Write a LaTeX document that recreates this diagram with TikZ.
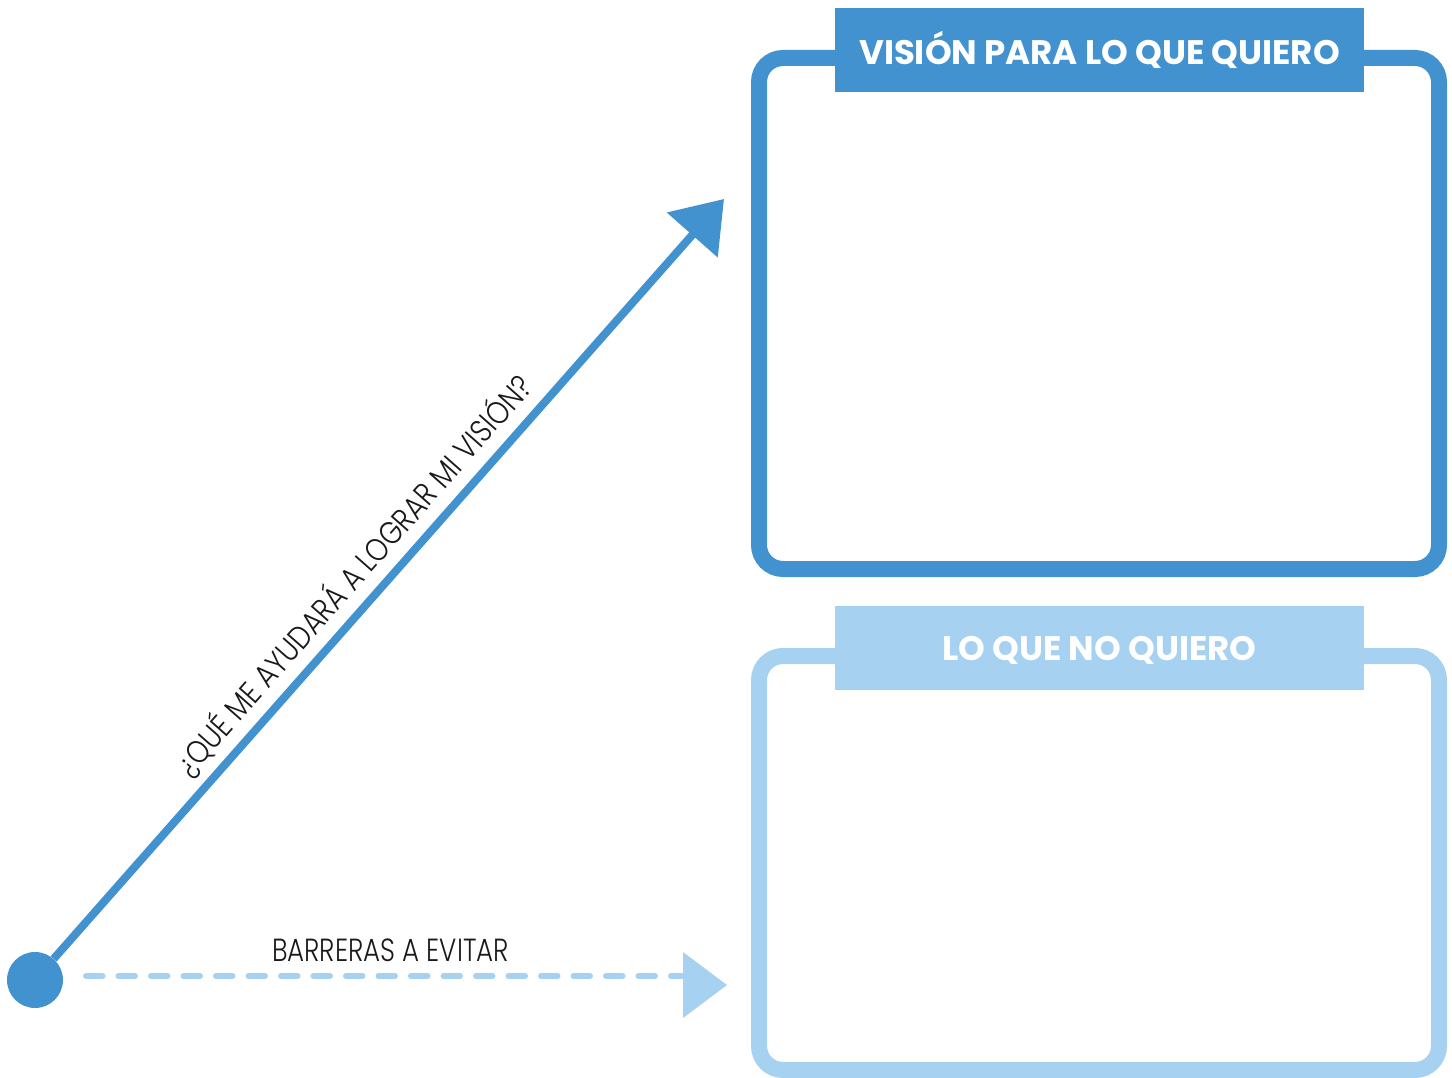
\documentclass[tikz,border=0pt]{standalone}
\usepackage{fontspec}
\setmainfont{Poppins}
\newfontfamily\titlefont{Poppins}[UprightFont={* Bold}, FakeStretch=1.0]
\newfontfamily\labelfont{Poppins Light}[FakeStretch=0.815]
\newfontfamily\askfont{Poppins Light}[FakeStretch=0.85]
\usetikzlibrary{positioning,arrows.meta}

\definecolor{darkblue}{RGB}{66,146,208}
\definecolor{lightblue}{RGB}{166,209,240}

\tikzset{
    frame/.style={line width=16pt, rounded corners=24pt},
    title/.style={text=white, font=\titlefont\fontsize{34}{34}\selectfont},
    label/.style={text=black!90, font=\labelfont\fontsize{32}{32}\selectfont},
    ask/.style={text=black!90, font=\askfont\fontsize{32}{32}\selectfont}
}

\begin{document}
\begin{tikzpicture}[x=1pt, y=-1pt]
        \useasboundingbox (0,0) rectangle (1452,1078);
        % Boxes
        \draw[frame, darkblue] (759,58) rectangle (1439,569);
        \fill[darkblue] (835,8) rectangle (1364,92);
        \node (t1) at (1099.5,50) [title] {VISIÓN PARA LO QUE QUIERO};

        \draw[frame, lightblue] (759,656) rectangle (1439,1070);
        \fill[lightblue] (835,606) rectangle (1364,690);
        \node (t2) at (1099.5,650) [title] {LO QUE NO QUIERO};

        % Nodes
        \node (dot) at (35,980) [circle, fill=darkblue, minimum size=56pt, inner sep=0pt] {};
        \coordinate (tip) at (724,199);
        \coordinate (b1) at (86,976);
        \coordinate (b2) at (684,976);
        \coordinate (b3) at (727,985);

        % Edges
        \draw[darkblue, line width=8pt, -{Triangle[length=48pt, width=66pt]}] (dot) -- (tip)
            node[ask, sloped, pos=0.48, anchor=base, yshift=17pt] (q) {¿QUÉ ME AYUDARÁ A LOGRAR MI VISIÓN?};
        \draw[lightblue, line width=6pt, line cap=round, dash pattern=on 16.5pt off 16pt] (b1) -- (b2);
        \fill[lightblue] (b3) -- (683,952) -- (683,1018) -- cycle;
        \node (b) at (390.5,950) [label] {BARRERAS A EVITAR};
\end{tikzpicture}
\end{document}
